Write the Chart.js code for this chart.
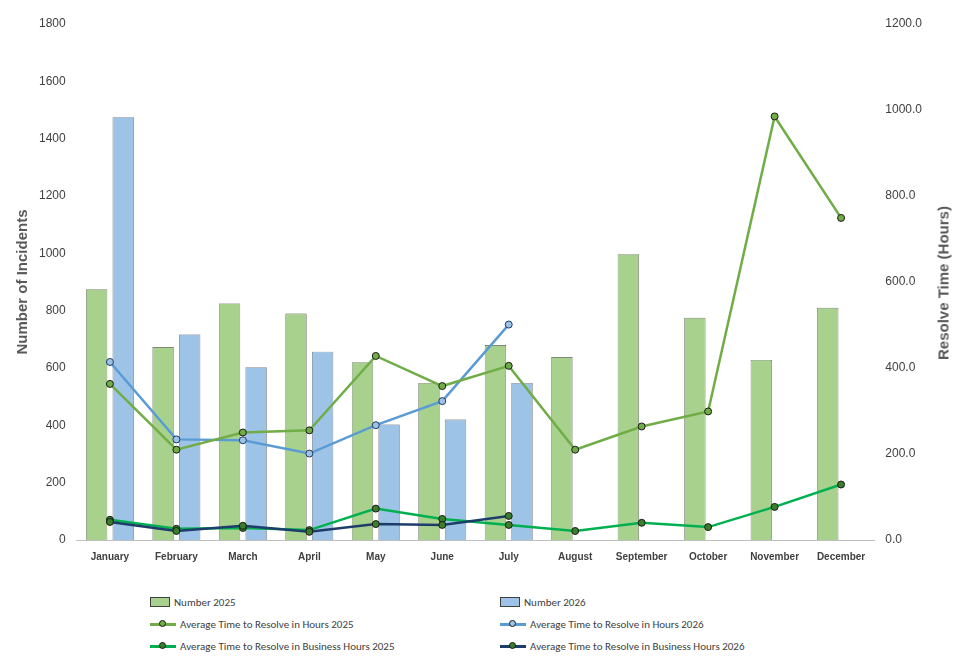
<!DOCTYPE html><html><head><script src="https://cdn.jsdelivr.net/npm/chart.js@4"></script>
<style>body{margin:0;background:#fff;font-family:Calibri,"Liberation Sans",Arial,sans-serif}
#w{position:absolute;left:0;top:0;width:955px;height:566px}
#lg{position:absolute;left:150px;top:594px;width:720px;font-size:11px;color:#404040}
.it{position:absolute;display:flex;align-items:center;height:16px}
.sw{display:inline-block;margin-right:4px}
#rt{position:absolute;left:943px;top:283px;transform:translate(-50%,-50%) rotate(-90deg);white-space:nowrap;color:#595959;font-size:15px;font-weight:bold;font-family:"Liberation Sans",Arial,sans-serif}
</style></head><body><div id="w"><canvas id="c"></canvas></div><div id="rt">Resolve Time (Hours)</div><div id="lg"></div>
<script>
const categories=["January","February","March","April","May","June","July","August","September","October","November","December"];
const number2025=[875,673,825,790,620,548,680,638,997,775,628,810];
const number2026=[1475,717,603,657,403,420,548,null,null,null,null,null];
const hours2025=[363,210,250,255,428,358,405,210,264,299,985,749];
const hours2026=[414,234,232,201,267,323,501,null,null,null,null,null];
const bus2025=[47,26,28,23,73,49,35,21,40,30,77,129];
const bus2026=[42,21,33,19,37,35,56,null,null,null,null,null];
const ds=[
{type:'bar',label:'Number 2025',data:number2025,backgroundColor:'#a9d18e',borderColor:'#404040',borderWidth:0.6,yAxisID:'y',order:5,barPercentage:0.8,categoryPercentage:0.8},
{type:'bar',label:'Number 2026',data:number2026,backgroundColor:'#9dc3e6',borderColor:'#404040',borderWidth:0.6,yAxisID:'y',order:5,barPercentage:0.8,categoryPercentage:0.8},
{type:'line',label:'Average Time to Resolve in Hours 2025',data:hours2025,borderColor:'#70ad47',backgroundColor:'#70ad47',pointBorderColor:'#1a1a1a',yAxisID:'y1',order:1},
{type:'line',label:'Average Time to Resolve in Hours 2026',data:hours2026,borderColor:'#5b9bd5',backgroundColor:'#9dc3e6',pointBorderColor:'#1f3864',yAxisID:'y1',order:1},
{type:'line',label:'Average Time to Resolve in Business Hours 2025',data:bus2025,borderColor:'#00b050',backgroundColor:'#3a7d2a',pointBorderColor:'#1a1a1a',yAxisID:'y1',order:1},
{type:'line',label:'Average Time to Resolve in Business Hours 2026',data:bus2026,borderColor:'#1f3d6b',backgroundColor:'#3a7d2a',pointBorderColor:'#1a1a1a',yAxisID:'y1',order:0}];
ds.forEach(d=>{if(d.type==='line'){d.borderWidth=2.5;d.pointRadius=3.5;d.pointBorderWidth=1;d.tension=0;}});
new Chart(document.getElementById('c'),{data:{labels:categories,datasets:ds},options:{responsive:true,maintainAspectRatio:false,animation:false,
layout:{padding:{left:10,right:30,top:24,bottom:0}},
plugins:{legend:{display:false},tooltip:{enabled:false}},
scales:{x:{grid:{display:false},border:{color:'#bfbfbf'},ticks:{color:'#404040',font:{size:10,weight:'bold'},maxRotation:0}},
y:{min:0,max:1800,ticks:{stepSize:200,color:'#404040',font:{size:12},callback:v=>String(v)},grid:{display:false},border:{display:false},title:{display:true,text:'Number of Incidents',color:'#595959',font:{size:15,weight:'bold'}}},
y1:{position:'right',min:0,max:1200,ticks:{stepSize:200,color:'#404040',font:{size:12},callback:v=>v.toFixed(1)},grid:{display:false},border:{display:false}}}}});
const lg=document.getElementById('lg');
ds.forEach((d,i)=>{const e=document.createElement('div');e.className='it';e.style.left=(i%2?350:0)+'px';e.style.top=(Math.floor(i/2)*22)+'px';
let sw=d.type==='bar'?`<span class="sw" style="width:18px;height:8px;background:${d.backgroundColor};border:0.6px solid #404040"></span>`:
`<span class="sw" style="position:relative;width:26px;height:3px;background:${d.borderColor}"><span style="position:absolute;left:9px;top:-3px;width:7px;height:7px;border-radius:50%;background:${d.backgroundColor};border:1px solid #1a1a1a;box-sizing:border-box"></span></span>`;
e.innerHTML=sw+d.label;lg.appendChild(e);});
</script></body></html>
